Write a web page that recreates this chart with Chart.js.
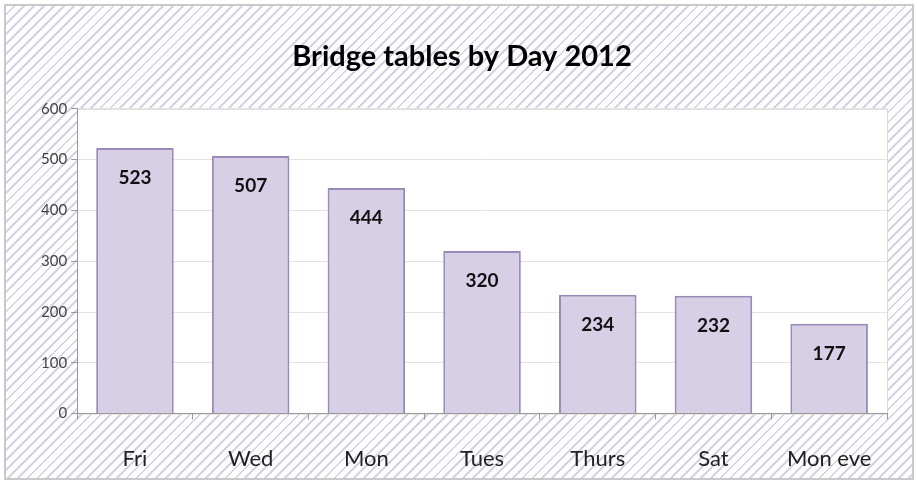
<!DOCTYPE html>
<html>
<head>
<meta charset="utf-8">
<script src="https://cdn.jsdelivr.net/npm/chart.js@4"></script>
<style>
  body { margin: 0; background: #fff; }
  #wrap { position: relative; width: 917px; height: 484px; }
  #frame {
    position: absolute; left: 4px; top: 4px; width: 906px; height: 472px;
    border: 2px solid #c9c9c9;
    background: repeating-linear-gradient(135deg, #ffffff 0px, #ffffff 5px, #d9d2e7 5px, #d9d2e7 7px);
  }
  #Wykres { position: absolute; left: 0; top: 0; }
</style>
</head>
<body>
<div id="wrap">
  <div id="frame"></div>
  <canvas id="Wykres" width="917" height="484"></canvas>
</div>
<script>
const days = ['Fri', 'Wed', 'Mon', 'Tues', 'Thurs', 'Sat', 'Mon eve'];
const tables = [523, 507, 444, 320, 234, 232, 177];
const yTicks = [0, 100, 200, 300, 400, 500, 600];

// white plot area with a thin border
const plotBg = {
    id: 'plotBg',
    beforeDraw(chart) {
        const a = chart.chartArea;
        const ctx = chart.ctx;
        ctx.save();
        ctx.fillStyle = '#ffffff';
        ctx.fillRect(a.left, a.top, a.right - a.left, a.bottom - a.top);
        ctx.strokeStyle = '#d9d9d9';
        ctx.lineWidth = 1;
        ctx.strokeRect(a.left + 0.5, a.top + 0.5, a.right - a.left, a.bottom - a.top);
        ctx.restore();
    }
};

// value labels inside the top of each bar
const barLabels = {
    id: 'barLabels',
    afterDatasetsDraw(chart) {
        const ctx = chart.ctx;
        const meta = chart.getDatasetMeta(0);
        ctx.save();
        ctx.font = 'bold 19px Lato';
        ctx.fillStyle = '#111';
        ctx.textAlign = 'center';
        ctx.textBaseline = 'middle';
        meta.data.forEach((bar, i) => {
            ctx.fillText(tables[i], bar.x, bar.y + 30);
        });
        ctx.restore();
    }
};

const ctx = document.getElementById('Wykres').getContext('2d');
const chart = new Chart(ctx, {
    type: 'bar',
    data: {
        labels: days,
        datasets: [{
            label: 'Tables',
            data: tables,
            backgroundColor: '#d6cfe6',
            borderColor: '#9a8ab6',
            borderWidth: 2,
            categoryPercentage: 1,
            barPercentage: 0.67
        }]
    },
    options: {
        responsive: false,
        animation: false,
        layout: { padding: { left: 37, right: 30, top: 21, bottom: -14 } },
        plugins: {
            legend: { display: false },
            tooltip: { enabled: false },
            title: {
                display: true,
                text: 'Bridge tables by Day 2012',
                color: '#000',
                font: { family: 'Lato', size: 29, weight: 'bold' },
                padding: { top: 18, bottom: 35 }
            }
        },
        scales: {
            x: {
                grid: { drawOnChartArea: false, drawTicks: true, tickLength: 6, color: '#999' },
                border: { color: '#999', width: 1 },
                ticks: { color: '#222', font: { family: 'Lato', size: 22 }, padding: 26 }
            },
            y: {
                min: 0,
                max: 600,
                afterBuildTicks(axis) { axis.ticks = yTicks.map(v => ({ value: v })); },
                grid: { color: '#e3e3e3', tickLength: 6, tickColor: '#999' },
                border: { color: '#999', width: 1 },
                ticks: { color: '#444', font: { family: 'Lato', size: 15 }, padding: 4 }
            }
        }
    },
    plugins: [plotBg, barLabels]
});
</script>
</body>
</html>
